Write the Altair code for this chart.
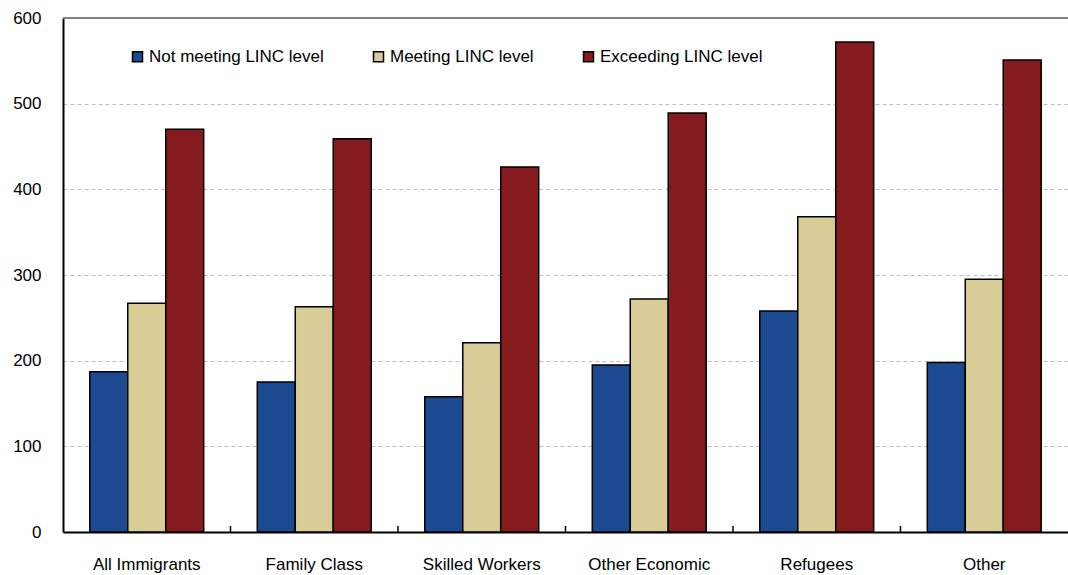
import altair as alt
import pandas as pd

# Immigrant groups and the three language-level series
categories = ["All Immigrants", "Family Class", "Skilled Workers",
              "Other Economic", "Refugees", "Other"]
series = ["Not meeting LINC level", "Meeting LINC level", "Exceeding LINC level"]
not_meeting = [187, 175, 158, 195, 258, 198]
meeting = [267, 263, 221, 272, 368, 295]
exceeding = [470, 459, 426, 489, 572, 551]
colors = ["#1B4A90", "#D9CD97", "#851B1E"]
y_ticks = [0, 100, 200, 300, 400, 500, 600]

rows = []
for i, cat in enumerate(categories):
    for name, vals in zip(series, [not_meeting, meeting, exceeding]):
        rows.append({"group": cat, "level": name, "value": vals[i]})
df = pd.DataFrame(rows)

FONT = "Liberation Sans"
FS = 17
PLOT_W = 1005
STEP = PLOT_W / len(categories)
x_scale = alt.Scale(domain=categories, paddingInner=0.32, paddingOuter=0.16)
y_scale = alt.Scale(domain=[0, 600], nice=False)

bars = alt.Chart(df).mark_bar(stroke="black", strokeWidth=1.5).encode(
    x=alt.X("group:N", scale=x_scale, sort=categories,
            axis=alt.Axis(title=None, labelAngle=0, ticks=False, labelPadding=24,
                          domainColor="black", domainWidth=2, labelFontSize=FS,
                          labelColor="black", grid=False)),
    xOffset=alt.XOffset("level:N", sort=series,
                        scale=alt.Scale(domain=series, paddingInner=0, paddingOuter=0)),
    y=alt.Y("value:Q", scale=y_scale,
            axis=alt.Axis(title=None, values=y_ticks, ticks=False, labelPadding=22,
                          domainColor="black", domainWidth=2, labelFontSize=FS,
                          labelColor="black", grid=True, gridColor="#BFBFBF",
                          gridDash=[4, 3], gridWidth=1)),
    color=alt.Color("level:N",
                    scale=alt.Scale(domain=series, range=colors),
                    legend=alt.Legend(title=None, orient="none", legendX=66, legendY=30,
                                      direction="horizontal", symbolType="square",
                                      symbolSize=100, symbolStrokeColor="black",
                                      symbolStrokeWidth=1.5, symbolOpacity=1,
                                      labelFontSize=FS, labelColor="black", labelLimit=0,
                                      labelOffset=3, columnPadding=46, padding=0)),
)

# small inward ticks on the boundaries between category groups
tick_df = pd.DataFrame({"group": categories[:-1]})
ticks = alt.Chart(tick_df).mark_rule(
    color="black", strokeWidth=1.5, xOffset=STEP / 2
).encode(
    x=alt.X("group:N", scale=x_scale, sort=categories, bandPosition=0.5),
    y=alt.datum(0),
    y2=alt.datum(7),
)

# grey frame line along the top of the plot
top_line = alt.Chart(pd.DataFrame({"v": [600]})).mark_rule(
    color="#808080", strokeWidth=2
).encode(y=alt.Y("v:Q", scale=y_scale))

chart = alt.layer(bars, ticks, top_line).properties(
    width=PLOT_W, height=514,
    autosize="none",
    padding={"left": 63, "top": 18, "right": 0, "bottom": 43},
).configure(font=FONT).configure_view(stroke=None)

chart.save("out.html", embed_options={"renderer": "svg", "actions": False})
